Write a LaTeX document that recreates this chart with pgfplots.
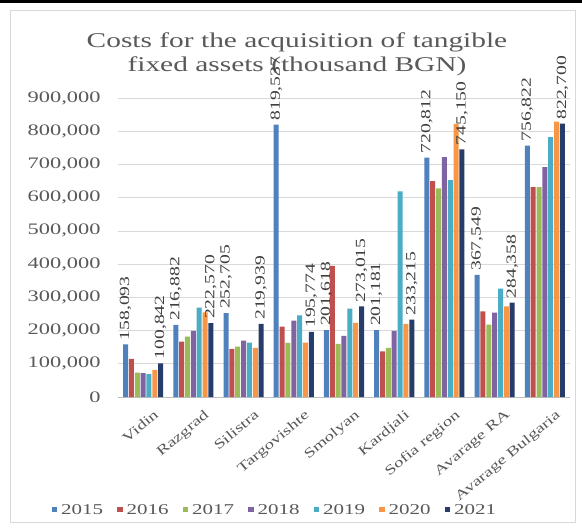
\documentclass[border=0pt]{standalone}
\usepackage{fontspec}
\setmainfont[FakeStretch=1.4]{Liberation Serif}
\usepackage{pgfplots}
\pgfplotsset{compat=1.18}
\definecolor{c2015}{HTML}{4F81BD}
\definecolor{c2016}{HTML}{C0504D}
\definecolor{c2017}{HTML}{9BBB59}
\definecolor{c2018}{HTML}{8064A2}
\definecolor{c2019}{HTML}{4BACC6}
\definecolor{c2020}{HTML}{F79646}
\definecolor{c2021}{HTML}{263D6B}
\definecolor{txtgray}{HTML}{595959}
\definecolor{lblgray}{HTML}{404040}
\definecolor{gridgray}{HTML}{D9D9D9}
\definecolor{axgray}{HTML}{BFBFBF}
\begin{document}
\begin{tikzpicture}[x=1pt,y=1pt]
\useasboundingbox (0,0) rectangle (582,528);
\fill[white] (0,0) rectangle (582,528);
\fill[black] (0,525) rectangle (582,528);
\draw[gridgray, line width=0.8pt] (10,6) rectangle (575,518);
\node[align=center, text=txtgray, font=\fontsize{21}{24}\selectfont] at (297,474)
  {Costs for the acquisition of tangible\\fixed assets (thousand BGN)};
\begin{axis}[
  at={(118pt,131pt)}, anchor=south west,
  scale only axis, width=452pt, height=299pt,
  ybar=0.85pt, bar width=5pt,
  xmin=-0.5, xmax=8.5, ymin=0, ymax=900000,
  xtick={0,...,8},
  xticklabels={Vidin, Razgrad, Silistra, Targovishte, Smolyan, Kardjali, Sofia region, Avarage RA, Avarage Bulgaria},
  ytick={0,100000,200000,300000,400000,500000,600000,700000,800000,900000},
  yticklabels={0,{100,000},{200,000},{300,000},{400,000},{500,000},{600,000},{700,000},{800,000},{900,000}},
  scaled y ticks=false,
  ymajorgrids, grid style={draw=gridgray, line width=0.7pt},
  axis x line*=bottom, axis y line*=left,
  y axis line style={draw=none},
  x axis line style={draw=axgray, -, line width=0.8pt},
  major tick length=0pt,
  yticklabel style={font=\fontsize{16}{18}\selectfont, text=txtgray, xshift=-14pt},
  xticklabel style={font=\fontsize{13.5}{16}\selectfont, text=txtgray, inner sep=0pt,
    xshift=10pt, yshift=-12pt, rotate=40, anchor=north east},
  every node near coord/.append style={rotate=90, anchor=west, inner sep=4pt,
    font=\fontsize{14}{16}\selectfont, text=lblgray},
  legend columns=7,
  legend style={draw=none, fill=none, at={(0.347,-0.378)}, anchor=center,
    font=\fontsize{15}{18}\selectfont, text=txtgray,
    /tikz/every even column/.append style={column sep=12pt},
    /tikz/every odd column/.append style={column sep=2pt}},
  legend image code/.code={\fill[#1,draw=none] (0pt,-0.2em) rectangle (0.55em,0.33em);},
]
\addplot[fill=c2015, draw=none, point meta=explicit symbolic, nodes near coords]
  table[meta=lab] {
x y lab
0 158093 158,093
1 216882 216,882
2 252705 252,705
3 819537 819,537
4 201618 201,618
5 201181 201,181
6 720812 720,812
7 367549 367,549
8 756822 756,822
};
\addplot[fill=c2016, draw=none]
  coordinates {(0,115000) (1,167000) (2,145000) (3,212000) (4,395000) (5,137000) (6,650000) (7,258000) (8,632000)};
\addplot[fill=c2017, draw=none]
  coordinates {(0,73000) (1,182000) (2,152000) (3,163000) (4,160000) (5,148000) (6,628000) (7,218000) (8,632000)};
\addplot[fill=c2018, draw=none]
  coordinates {(0,72000) (1,199000) (2,170000) (3,230000) (4,184000) (5,199000) (6,722000) (7,254000) (8,692000)};
\addplot[fill=c2019, draw=none]
  coordinates {(0,69000) (1,269000) (2,164000) (3,246000) (4,266000) (5,619000) (6,653000) (7,326000) (8,782000)};
\addplot[fill=c2020, draw=none]
  coordinates {(0,82000) (1,255000) (2,148000) (3,164000) (4,223000) (5,220000) (6,822000) (7,273000) (8,829000)};
\addplot[fill=c2021, draw=none, point meta=explicit symbolic, nodes near coords]
  table[meta=lab] {
x y lab
0 100842 100,842
1 222570 222,570
2 219939 219,939
3 195774 195,774
4 273015 273,015
5 233215 233,215
6 745150 745,150
7 284358 284,358
8 822700 822,700
};
\legend{2015,2016,2017,2018,2019,2020,2021}
\end{axis}
\end{tikzpicture}
\end{document}
